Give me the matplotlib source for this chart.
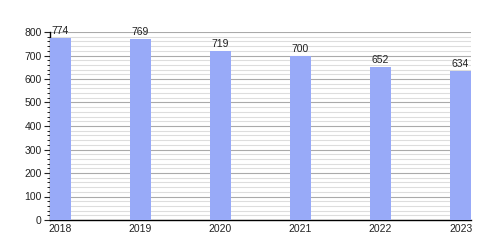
'''
plot.py
Bar chart of yearly counts, 2018-2023
'''

import numpy as np
import matplotlib
matplotlib.use('Agg')
import matplotlib.pyplot as plt
from matplotlib.ticker import MultipleLocator

# DATA
years = ['2018', '2019', '2020', '2021', '2022', '2023']
values = [774, 769, 719, 700, 652, 634]

plt.rcParams['font.family'] = ['Liberation Sans', 'DejaVu Sans']

fig = plt.figure(figsize=(5, 2.5), dpi=100)
ax = fig.add_axes([0.1, 0.12, 0.842, 0.752])

x = np.arange(len(years))
w = 0.26
ax.bar(x, values, width=w, color='#98aaf8', zorder=3)
for xi, v in zip(x, values):
    ax.text(xi, v + 8, str(v), ha='center', va='bottom', fontsize=7.5, color='#222222', zorder=4)

ax.set_xlim(-w / 2, len(years) - 1 + w / 2)
ax.set_ylim(0, 800)
ax.set_xticks(x)
ax.set_xticklabels(years)
ax.yaxis.set_major_locator(MultipleLocator(100))
ax.yaxis.set_minor_locator(MultipleLocator(20))
ax.grid(True, axis='y', which='major', color='#aaaaaa', linewidth=0.8, zorder=0)
ax.grid(True, axis='y', which='minor', color='#dddddd', linewidth=0.8, zorder=0)

ax.spines['top'].set_visible(False)
ax.spines['right'].set_visible(False)
ax.spines['left'].set_linewidth(1.0)
ax.spines['bottom'].set_linewidth(1.0)
ax.tick_params(axis='both', labelsize=7.5, colors='#222222')
ax.tick_params(axis='y', which='major', length=4, width=0.8, pad=2)
ax.tick_params(axis='y', which='minor', length=2, width=0.6)
ax.tick_params(axis='x', length=0, pad=3)

fig.savefig('out.png', dpi=100)
